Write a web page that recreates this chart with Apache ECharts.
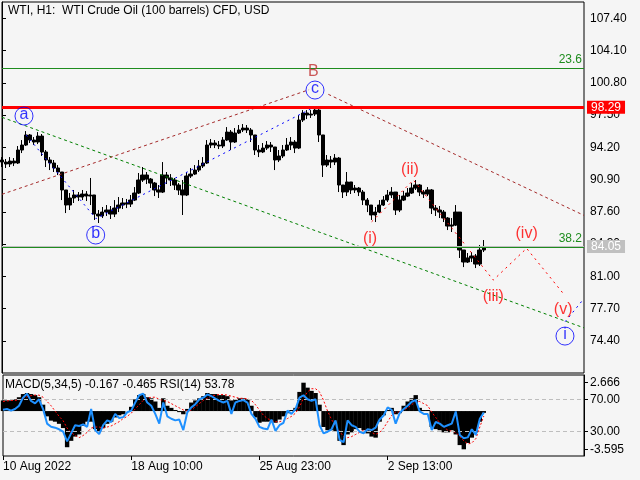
<!DOCTYPE html>
<html><head><meta charset="utf-8">
<script src="https://cdn.jsdelivr.net/npm/echarts@6/dist/echarts.min.js"></script>
<style>html,body{margin:0;padding:0;background:#F5F5F5}#c{width:640px;height:480px}</style>
</head><body><div id="c"></div>
<script>
const FONT = 'Liberation Sans, Arial, sans-serif';
const slotCount = 146;
const timeTickIndex = [0, 32, 64, 96];
const timeTickText = ['10 Aug 2022', '18 Aug 10:00', '25 Aug 23:00', '2 Sep 13:00'];
const priceTicks = [74.40, 77.70, 81.00, 84.30, 87.60, 90.90, 94.20, 97.50, 100.80, 104.10, 107.40];
const rsiTicks = [70, 30];
const macdTicks = [2.666, -3.595];

// [open, close, low, high]
const ohlc = [
[92.90,92.69,92.18,93.20],[92.69,92.49,92.08,93.00],[92.49,92.79,92.18,93.20],[92.79,92.59,92.28,93.10],
[92.59,93.92,92.49,94.33],[93.92,94.43,93.61,94.94],[94.43,95.46,94.33,95.86],[95.46,94.94,94.64,95.56],
[94.94,94.74,94.43,95.25],[94.74,95.35,94.53,95.76],[95.35,93.72,93.31,95.56],[93.72,92.90,92.18,93.92],
[92.90,92.59,91.87,93.20],[92.59,92.08,91.67,92.90],[92.08,91.67,91.36,92.38],[91.67,89.83,88.80,91.67],
[89.83,88.29,87.47,89.83],[88.29,89.01,87.78,89.52],[89.01,89.32,88.50,89.83],[89.32,89.11,88.70,89.62],
[89.11,89.42,88.80,89.83],[89.42,89.21,88.70,89.72],[89.21,89.32,88.29,91.06],[89.32,87.37,86.76,89.32],
[87.37,87.17,86.45,87.78],[87.17,87.57,86.96,88.09],[87.57,87.78,87.17,88.29],[87.78,87.37,86.86,88.19],
[87.37,87.98,87.06,88.80],[87.98,88.29,87.57,89.11],[88.29,88.50,87.88,89.01],[88.50,88.39,87.98,88.91],
[88.39,88.80,88.09,89.32],[88.80,89.52,88.70,90.13],[89.52,90.85,89.42,91.57],[90.85,91.36,90.65,92.18],
[91.36,90.95,90.44,91.67],[90.95,90.54,90.03,91.06],[90.54,89.83,89.21,90.65],[89.83,89.62,89.01,90.34],
[89.62,91.36,89.52,92.69],[91.36,91.06,90.44,91.67],[91.06,90.85,90.24,91.46],[90.85,90.34,89.83,91.06],
[90.34,89.83,89.32,90.54],[89.83,89.32,87.27,90.85],[89.32,91.26,89.21,91.67],[91.26,91.46,91.06,92.08],
[91.46,91.87,91.36,92.38],[91.87,92.28,91.67,92.90],[92.28,92.59,92.08,93.20],[92.59,94.43,92.49,94.94],
[94.43,94.64,94.12,95.05],[94.64,94.43,94.12,94.94],[94.43,94.33,94.02,94.84],[94.33,94.94,94.12,95.25],
[94.94,95.76,94.84,96.27],[95.76,94.74,93.92,95.97],[94.74,95.66,94.64,96.17],[95.66,95.97,95.56,96.48],
[95.97,96.17,95.76,96.58],[96.17,95.97,95.66,96.48],[95.97,95.46,94.74,96.17],[95.46,93.92,93.41,95.46],
[93.92,93.72,93.20,94.43],[93.72,94.12,93.61,94.64],[94.12,94.43,93.92,94.84],[94.43,94.23,93.72,94.74],
[94.23,92.90,91.87,94.23],[92.90,93.31,92.69,93.92],[93.31,93.92,93.10,94.43],[93.92,94.43,93.82,95.15],
[94.43,94.74,93.92,95.25],[94.74,94.12,93.61,94.94],[94.12,96.99,94.02,97.50],[96.99,97.71,96.79,98.01],
[97.71,97.50,97.09,98.01],[97.50,97.60,97.20,98.01],[97.60,98.01,97.40,98.42],[98.01,95.46,94.74,98.11],
[95.46,92.38,91.16,95.46],[92.38,92.90,92.18,93.41],[92.90,92.69,92.08,93.31],[92.69,93.10,92.38,93.51],
[93.10,90.34,89.62,93.20],[90.34,89.62,89.01,90.34],[89.62,90.65,89.21,91.67],[90.65,89.83,89.42,90.65],
[89.83,90.03,89.52,90.34],[90.03,89.62,89.21,90.13],[89.62,88.80,88.29,89.83],[88.80,88.29,87.57,89.01],
[88.29,87.27,86.76,88.29],[87.27,87.57,86.55,88.09],[87.57,88.29,87.47,88.80],[88.29,88.80,88.19,89.21],
[88.80,89.32,88.60,89.83],[89.32,89.62,89.01,90.13],[89.62,87.78,87.27,89.62],[87.78,88.80,87.57,89.32],
[88.80,89.21,88.70,89.72],[89.21,89.52,89.11,90.03],[89.52,90.03,89.42,90.54],[90.03,90.34,89.83,90.85],
[90.34,89.62,89.21,90.44],[89.62,89.42,89.01,89.83],[89.42,89.83,89.21,90.13],[89.83,87.98,87.37,89.93],
[87.98,87.78,87.17,88.29],[87.78,87.57,86.96,88.19],[87.57,86.96,86.55,87.78],[86.96,86.14,85.73,87.06],
[86.14,86.24,85.53,86.96],[86.24,87.57,86.14,88.29],[87.57,83.69,82.87,87.57],[83.69,82.46,81.94,83.69],
[82.46,82.87,82.36,83.38],[82.87,83.07,82.46,83.48],[83.07,82.25,81.84,83.28],[82.25,83.69,82.05,84.20],
[83.69,84.05,83.48,84.71]
];

const macdHist = [
1.0,1.0,1.0,1.1,1.3,1.6,1.7,1.6,1.5,1.3,0.6,-0.5,-0.9,-1.0,-1.2,-1.6,-3.4,-2.8,-2.4,-2.2,
-1.4,-1.0,-1.0,-1.7,-1.9,-1.6,-1.2,-1.0,-0.6,-0.4,-0.3,0.0,0.4,1.1,1.5,1.6,1.3,1.2,0.9,0.3,
1.2,0.5,0.3,0.1,-0.1,-0.3,0.2,0.8,1.0,1.2,1.4,1.7,1.6,1.6,1.5,1.5,1.4,1.0,1.1,1.2,
1.2,1.1,0.5,-0.6,-1.1,-1.0,-1.0,-0.9,-1.1,-0.8,-0.5,-0.2,0.1,0.3,1.8,2.666,2.2,1.9,1.7,0.6,
-1.5,-1.8,-1.8,-1.9,-2.8,-3.2,-2.2,-2.0,-1.7,-1.6,-1.8,-2.1,-2.4,-2.5,-1.0,-0.4,0.1,0.3,-0.3,-0.2,
0.5,0.9,1.2,1.5,0.3,0.1,0.1,-1.5,-1.7,-1.8,-2.0,-2.0,-1.8,-2.2,-3.2,-3.595,-3.0,-2.5,-2.0,-1.0,
-0.167
];

const macdSignal = [
0.9,0.95,1.0,1.0,1.05,1.2,1.35,1.45,1.5,1.5,1.3,0.9,0.5,0.0,-0.5,-0.9,-1.6,-2.0,-2.3,-2.5,
-2.3,-2.0,-1.6,-1.5,-1.5,-1.6,-1.5,-1.4,-1.2,-1.0,-0.7,-0.5,-0.2,0.2,0.6,1.0,1.2,1.3,1.3,1.1,
1.0,0.9,0.7,0.5,0.3,0.1,0.0,0.1,0.4,0.7,1.0,1.2,1.4,1.5,1.55,1.55,1.5,1.4,1.3,1.2,
1.2,1.15,1.0,0.6,0.1,-0.4,-0.7,-0.9,-1.0,-1.0,-0.9,-0.7,-0.5,-0.2,0.4,1.2,1.8,2.1,2.1,1.8,
1.0,0.0,-0.8,-1.4,-1.9,-2.4,-2.5,-2.4,-2.2,-2.0,-1.8,-1.8,-2.0,-2.2,-2.0,-1.6,-1.0,-0.4,-0.1,-0.1,
0.1,0.3,0.6,0.9,0.9,0.7,0.5,-0.1,-0.6,-1.1,-1.5,-1.8,-1.9,-2.0,-2.4,-2.8,-3.1,-3.0,-2.6,-1.5,
-0.465
];

const rsi = [
57,58,56,58,62,72,77,68,65,70,58,40,36,35,33,30,18,28,38,37,
39,36,58,32,27,38,44,42,52,47,48,54,56,66,75,77,66,62,52,40,
66,49,46,44,45,32,54,60,64,70,72,76,74,71,68,66,68,52,66,68,
69,66,52,46,36,34,33,45,31,38,41,56,52,58,72,75,70,68,70,38,
28,30,33,44,20,17,44,38,36,30,28,33,32,35,45,50,60,57,40,53,
58,62,67,69,55,52,52,32,42,40,36,38,40,55,26,22,23,33,26,46,
53.78
];

const levelRed = 98.29;
const lastPrice = 84.05;
const fib236 = 102.31;
const fib382 = 83.96;

const channelLower = [[0, 97.27], [145, 75.72]];
const channelUpperA = [[0, 89.39], [76.5, 100.09]];
const channelUpperB = [[81.3, 99.62], [145, 87.23]];
const waveABC = [[6.0, 95.46], [23.4, 86.90], [78.0, 98.35]];
const waveNext = [[140.3, 76.35], [144.7, 78.57]];
const subWaves = [[92.1, 86.58], [102.5, 90.85], [122.4, 80.61], [130.7, 83.86], [139.8, 79.25]];

const circledLabels = [[5.48, 97.40, 'a'], [23.34, 85.22, 'b'], [77.98, 100.06, 'c'], [140.26, 74.88, 'i']];
const redLabels = [[91.68, 84.88, '(i)'], [101.64, 91.94, '(ii)'], [122.4, 78.90, '(iii)'], [130.7, 85.39, '(iv)'], [139.8, 77.54, '(v)']];
const bigLabels = [[77.55, 101.93, 'B']];

const titleText = 'WTI, H1:  WTI Crude Oil (100 barrels) CFD, USD';
const subTitleText = 'MACD(5,34,5) -0.167 -0.465 RSI(14) 53.78';

const categories = [];
for (let i = 0; i < slotCount; i++) categories.push(String(i));
const labelMap = {};
timeTickIndex.forEach((k, j) => { labelMap[k] = timeTickText[j]; });

const chart = echarts.init(document.getElementById('c'));
const dashLine = (data, color, type) => ({
  type: 'line', xAxisIndex: 1, yAxisIndex: 0, data, symbol: 'none', silent: true,
  lineStyle: { color, width: 1, type }, z: 3
});

chart.setOption({
  animation: false,
  backgroundColor: '#F5F5F5',
  textStyle: { fontFamily: FONT },
  title: [
    { text: titleText, left: 8, top: 5, padding: 0, textStyle: { fontSize: 12, fontWeight: 'normal', color: '#000', fontFamily: FONT } },
    { text: subTitleText, left: 5, top: 379, padding: 0, textStyle: { fontSize: 12, fontWeight: 'normal', color: '#000', fontFamily: FONT } }
  ],
  grid: [
    { left: 2, top: 2, width: 582, height: 371, show: true, borderColor: '#000', borderWidth: 1, backgroundColor: '#F5F5F5' },
    { left: 2, top: 375, width: 582, height: 81, show: true, borderColor: '#000', borderWidth: 1, backgroundColor: '#F5F5F5' }
  ],
  xAxis: [
    { type: 'category', gridIndex: 0, data: categories, boundaryGap: false, show: false },
    { type: 'value', gridIndex: 0, min: 0, max: slotCount - 1, show: false },
    { type: 'category', gridIndex: 1, data: categories, boundaryGap: false, position: 'bottom',
      axisLine: { show: false },
      axisTick: { show: true, length: 4, lineStyle: { color: '#000' }, interval: (idx) => labelMap[idx] !== undefined },
      axisLabel: { show: true, interval: (idx) => labelMap[idx] !== undefined, formatter: (v, idx) => labelMap[idx] || '',
        align: 'left', margin: 5, color: '#000', fontSize: 12, fontFamily: FONT },
      splitLine: { show: false } }
  ],
  yAxis: [
    { type: 'value', gridIndex: 0, position: 'right', min: 71.1, max: 109.07, scale: true,
      axisLine: { show: true, lineStyle: { color: '#000' } },
      axisTick: { show: true, length: 4, lineStyle: { color: '#000' }, customValues: priceTicks },
      axisLabel: { show: true, customValues: priceTicks, formatter: (v) => v.toFixed(2), margin: 6, color: '#000', fontSize: 12, fontFamily: FONT },
      splitLine: { show: false } },
    { type: 'value', gridIndex: 1, position: 'right', min: 0, max: 100,
      axisLine: { show: true, lineStyle: { color: '#000' } },
      axisTick: { show: true, length: 4, lineStyle: { color: '#000' }, customValues: rsiTicks },
      axisLabel: { show: true, customValues: rsiTicks, formatter: (v) => v.toFixed(2), margin: 6, color: '#000', fontSize: 12, fontFamily: FONT },
      splitLine: { show: false } },
    { type: 'value', gridIndex: 1, position: 'right', min: -4.225, max: 3.39,
      axisLine: { show: false },
      axisTick: { show: true, length: 4, lineStyle: { color: '#000' }, customValues: macdTicks },
      axisLabel: { show: true, customValues: macdTicks, formatter: (v) => v.toFixed(3), margin: 6, color: '#000', fontSize: 12, fontFamily: FONT },
      splitLine: { show: false } }
  ],
  series: [
    { type: 'candlestick', xAxisIndex: 0, yAxisIndex: 0, data: ohlc, barWidth: 3.8, silent: true,
      itemStyle: { color: '#000', color0: '#000', borderColor: '#000', borderColor0: '#000', borderWidth: 1 },
      markLine: { silent: true, symbol: 'none', animation: false,
        data: [
          { yAxis: fib236, lineStyle: { color: '#1E8C1E', width: 1, type: 'solid' },
            label: { show: true, position: 'insideEndTop', formatter: '23.6', color: '#1E8C1E', fontSize: 12, fontFamily: FONT, distance: [2, 2] } },
          { yAxis: fib382, lineStyle: { color: '#1E8C1E', width: 1, type: 'solid' },
            label: { show: true, position: 'insideEndTop', formatter: '38.2', color: '#1E8C1E', fontSize: 12, fontFamily: FONT, distance: [2, 3] } },
          { yAxis: lastPrice, lineStyle: { color: '#C0C0C0', width: 1, type: 'solid' },
            label: { show: true, position: 'end', formatter: lastPrice.toFixed(2), color: '#fff', backgroundColor: '#C0C0C0', padding: [1, 4, 0, 4], fontSize: 12, fontFamily: FONT, distance: 3 } },
          { yAxis: levelRed, lineStyle: { color: '#FF0000', width: 3, type: 'solid' },
            label: { show: true, position: 'end', formatter: levelRed.toFixed(2), color: '#fff', backgroundColor: '#FF0000', padding: [1, 4, 0, 4], fontSize: 12, fontFamily: FONT, distance: 3 } }
        ] } },
    dashLine(channelLower, '#008000', [3, 3]),
    dashLine(channelUpperA, '#A52A2A', [3, 3]),
    dashLine(channelUpperB, '#A52A2A', [3, 3]),
    dashLine(waveABC, '#0000FF', [2, 4]),
    dashLine(waveNext, '#0000FF', [2, 4]),
    dashLine(subWaves, '#FF0000', [2, 4]),
    { type: 'scatter', xAxisIndex: 1, yAxisIndex: 0, data: circledLabels, symbol: 'circle', symbolSize: 18, silent: true, z: 5,
      itemStyle: { color: 'rgba(0,0,0,0)', borderColor: '#0000FF', borderWidth: 1 },
      label: { show: true, position: 'inside', formatter: (p) => p.data[2], color: '#0000FF', fontSize: 16, fontFamily: FONT, offset: [0, -1] } },
    { type: 'scatter', xAxisIndex: 1, yAxisIndex: 0, data: redLabels, symbol: 'circle', symbolSize: 1, silent: true, z: 5,
      itemStyle: { color: 'rgba(0,0,0,0)' },
      label: { show: true, position: 'inside', formatter: (p) => p.data[2], color: '#FF0000', fontSize: 16, fontFamily: FONT } },
    { type: 'scatter', xAxisIndex: 1, yAxisIndex: 0, data: bigLabels, symbol: 'circle', symbolSize: 1, silent: true, z: 5,
      itemStyle: { color: 'rgba(0,0,0,0)' },
      label: { show: true, position: 'inside', formatter: (p) => p.data[2], color: '#C03030', fontSize: 16, fontFamily: FONT } },
    { type: 'bar', xAxisIndex: 2, yAxisIndex: 2, data: macdHist, barWidth: 4.4, silent: true,
      itemStyle: { color: '#000' } },
    { type: 'line', xAxisIndex: 2, yAxisIndex: 2, data: macdSignal, symbol: 'none', silent: true,
      lineStyle: { color: '#FF0000', width: 1, type: [2, 2] }, z: 4 },
    { type: 'line', xAxisIndex: 2, yAxisIndex: 1, data: rsi, symbol: 'none', silent: true,
      lineStyle: { color: '#1E90FF', width: 2 }, z: 5,
      markLine: { silent: true, symbol: 'none', label: { show: false },
        data: [ { yAxis: 70 }, { yAxis: 30 } ],
        lineStyle: { color: '#BEBEBE', width: 1, type: [4, 3] } } }
  ]
});
</script>
</body></html>
